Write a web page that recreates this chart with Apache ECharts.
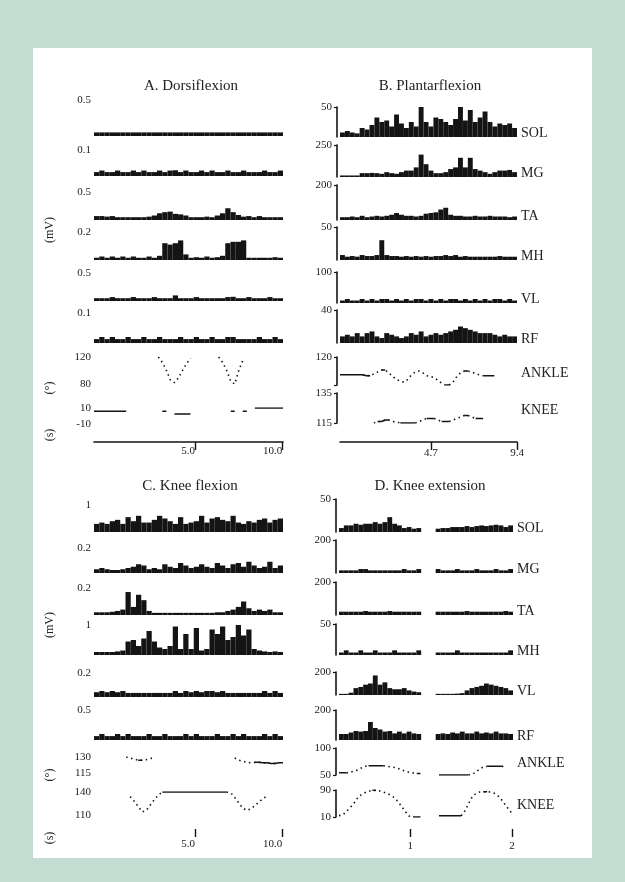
<!DOCTYPE html>
<html>
<head>
<meta charset="utf-8">
<title>EMG and joint angles</title>
<script src="https://cdn.jsdelivr.net/npm/echarts@6/dist/echarts.min.js"></script>
<style>
  body { margin: 0; background: #c4ddd3; }
  #sheet { position: absolute; left: 33px; top: 48px; width: 559px; height: 810px; background: #fff; }
  #main { position: absolute; left: 0; top: 0; width: 625px; height: 882px; }
</style>
</head>
<body>
<div id="sheet"></div>
<div id="main"></div>
<script>
/* ---------- data ---------- */
var muscles = ['SOL', 'MG', 'TA', 'MH', 'VL', 'RF'];
var joints = ['ANKLE', 'KNEE'];
var titles = ['A. Dorsiflexion', 'B. Plantarflexion', 'C. Knee flexion', 'D. Knee extension'];

// A. dorsiflexion
var dorsiScale = [0.5, 0.1, 0.5, 0.2, 0.5, 0.1];
var dorsiSOL = [0.05,0.05,0.05,0.05,0.05,0.05,0.05,0.05,0.05,0.05,0.05,0.05,0.05,0.05,0.05,0.05,0.05,0.05,0.05,0.05,0.05,0.05,0.05,0.05,0.05,0.05,0.05,0.05,0.05,0.05,0.05,0.05,0.05,0.05,0.05,0.05];
var dorsiMG = [.015,.021,.015,.015,.021,.015,.015,.021,.015,.021,.015,.015,.021,.015,.021,.022,.015,.021,.015,.015,.021,.015,.021,.015,.015,.021,.015,.015,.021,.015,.015,.015,.021,.015,.015,.021];
var dorsiTA = [0.07,0.07,0.06,0.07,0.05,0.05,0.05,0.05,0.05,0.05,0.06,0.08,0.12,0.14,0.15,0.11,0.1,0.08,0.05,0.05,0.05,0.06,0.05,0.08,0.12,0.21,0.14,0.09,0.06,0.07,0.05,0.07,0.05,0.05,0.05,0.05];
var dorsiMH = [0.016,0.025,0.016,0.025,0.016,0.025,0.016,0.025,0.016,0.016,0.025,0.016,0.03,0.12,0.11,0.12,0.14,0.04,0.016,0.02,0.016,0.025,0.016,0.02,0.03,0.12,0.13,0.13,0.14,0.016,0.016,0.016,0.016,0.016,0.02,0.016];
var dorsiVL = [.05,.05,.05,.07,.05,.05,.05,.07,.05,.05,.05,.07,.05,.05,.05,.10,.05,.05,.05,.07,.05,.05,.05,.05,.05,.07,.075,.05,.05,.07,.05,.05,.05,.07,.05,.05];
var dorsiRF = [.013,.02,.013,.02,.013,.013,.02,.013,.013,.02,.013,.013,.02,.013,.013,.013,.02,.013,.013,.02,.013,.013,.02,.013,.013,.02,.02,.013,.013,.013,.013,.02,.013,.013,.02,.013];
var dorsiAnkle = [null,null,null,null,null,null,null,null,null,null,null,null,null,null,null,null,120,112,100,86,82,89,100,110,118,null,null,null,null,null,null,120,112,100,84,80,100,115,null,null,null,null,null,null,null,null,null,null];
var dorsiKnee = [6,6,6,6,6,6,6,6,6,null,null,null,null,null,null,null,null,6,6,null,2.5,2.5,2.5,2.5,2.5,null,null,null,null,null,null,null,null,null,6,6,null,6,6,null,10,10,10,10,10,10,10,10];
var dorsiAnkleRange = [80, 120];
var dorsiKneeRange = [-10, 10];
var dorsiTime = [-0.8, 10.05];
var dorsiTicks = [5, 10];

// B. plantarflexion
var plantarScale = [50, 250, 200, 50, 100, 40];
var plantarSOL = [7.5,10,7.5,6,15,12.5,20,32.5,25,27.5,17.5,37.5,22.5,15,25,17.5,50,25,17.5,32.5,30,25,20,30,50,27.5,45,25,32.5,42.5,25,17.5,22.5,20,22.5,15];
var plantarMG = [12,12,12,12,30,30,32,30,25,38,30,25,38,50,50,75,175,100,50,30,30,38,62,75,150,75,150,62,50,38,25,38,50,50,55,38];
var plantarTA = [16,16,20,16,24,16,20,24,20,24,30,40,30,24,24,20,24,36,40,44,60,70,30,24,24,20,20,24,20,20,24,20,20,20,16,20];
var plantarMH = [7.5,5,6,5,7.5,6,6,7.5,30,7.5,6,6,5,6,5,6,5,6,5,6,6,7.5,6,7.5,5,6,5,5,5,5,5,5,6,5,5,5];
var plantarVL = [8,13,8,8,13,8,13,8,13,13,8,13,8,13,8,13,13,8,13,8,13,8,13,13,8,13,8,13,8,13,8,13,13,8,13,8];
var plantarRF = [8,10,8,12,8,12,14,8,6,12,10,8,6,8,12,10,14,8,10,12,10,12,14,16,20,18,16,14,12,12,12,10,8,10,8,8];
var plantarAnkle = [101,101,101,101,101,101,101,100,100,102,104,106,106,103,99,96,94,93,96,101,104,105,103,100,99,98,95,92,90,90,93,99,103,105,105,104,102,101,100,100,100,100,null,null,null,null,null,null];
var plantarKnee = [null,null,null,null,null,null,null,null,null,115,116,116,117,117,116,115.5,115,115,115,115,115,116,117,118,118,118,117,116,116,116,117,118,119,120,120,119,118,118,118,null,null,null,null,null,null,null,null,null];
var plantarAnkleRange = [90, 120];
var plantarKneeRange = [115, 135];
var plantarTime = [-0.27, 9.4];
var plantarTicks = [4.7, 9.4];

// C. knee flexion
var flexScale = [1, 0.2, 0.2, 1, 0.2, 0.5];
var flexSOL = [.3,.35,.3,.4,.45,.3,.55,.4,.6,.35,.35,.45,.6,.5,.4,.3,.55,.3,.35,.4,.6,.35,.5,.55,.45,.4,.6,.35,.3,.4,.35,.45,.5,.35,.45,.5];
var flexMG = [.03,.04,.03,.024,.024,.03,.04,.05,.07,.06,.03,.04,.03,.07,.05,.04,.08,.06,.04,.05,.07,.05,.04,.08,.06,.04,.07,.08,.05,.09,.06,.04,.05,.09,.04,.06];
var flexTA = [.02,.02,.02,.024,.03,.04,.17,.06,.15,.11,.03,.016,.016,.016,.016,.016,.016,.016,.016,.016,.016,.016,.016,.02,.02,.03,.04,.06,.1,.05,.03,.04,.03,.04,.02,.02];
var flexMH = [.1,.1,.1,.1,.12,.15,.45,.5,.3,.55,.8,.45,.25,.2,.3,.95,.2,.7,.2,.9,.15,.2,.85,.7,.95,.5,.6,1.0,.65,.85,.2,.15,.12,.1,.12,.1];
var flexVL = [.04,.05,.04,.05,.04,.05,.034,.034,.034,.034,.034,.034,.034,.034,.034,.05,.034,.05,.04,.05,.04,.05,.05,.04,.05,.034,.034,.034,.034,.034,.034,.034,.05,.034,.05,.034];
var flexRF = [.065,.1,.065,.065,.1,.065,.1,.065,.065,.065,.1,.065,.065,.1,.065,.065,.065,.1,.065,.1,.065,.065,.065,.1,.065,.065,.1,.065,.1,.065,.065,.065,.1,.065,.1,.065];
var flexAnkle = [null,null,null,null,null,null,null,null,130,129,128,127,127,127.5,128.5,129.5,null,null,null,null,null,null,null,null,null,null,null,null,null,null,null,null,null,null,null,129,127,126,125,124.5,125,125,124.5,124.5,124,124,124.5,124.5];
var flexKnee = [null,null,null,null,null,null,null,null,null,134,128,121,114,116,123,130,136,140,140,140,140,140,140,140,140,140,140,140,140,140,140,140,140,140,139,133,126,119,116,118,122,127,131,135,null,null,null,null];
var flexAnkleRange = [115, 130];
var flexKneeRange = [110, 140];
var flexTime = [-0.8, 10.05];
var flexTicks = [5, 10];

// D. knee extension (two trials, gap between them)
var extScale = [50, 200, 200, 50, 200, 200];
var extSOL = [6,10,10,12.5,11,12.5,12.5,15,12.5,15,22.5,12.5,10,6,7.5,5,6,null,null,null,5,6,6,7.5,7.5,7.5,9,7.5,9,10,9,10,11,10,7.5,10];
var extMG = [16,16,16,16,24,24,16,16,16,16,16,16,16,24,16,16,24,null,null,null,24,16,16,16,24,16,16,16,24,16,16,16,24,16,16,24];
var extTA = [20,20,20,20,20,24,20,20,20,20,24,20,20,20,20,20,20,null,null,null,20,20,20,20,20,20,24,20,20,20,20,20,20,20,24,20];
var extMH = [4,7.5,4,4,7.5,4,4,7.5,4,4,4,7.5,4,4,4,4,7.5,null,null,null,4,4,4,4,7.5,4,4,4,4,4,4,4,4,4,4,7.5];
var extVL = [10,10,20,60,70,90,100,170,90,110,60,50,50,60,40,30,24,null,null,null,10,10,10,10,12,16,40,60,70,80,100,90,80,70,60,40];
var extRF = [40,40,50,60,56,60,120,80,70,56,60,44,56,44,56,44,40,null,null,null,40,44,40,50,44,56,44,44,56,44,50,44,56,44,44,40];
var extAnkle = [54,54,54,55,57,59,63,66,67,67,67,67,67,66,65,64,62,59,57,55,54,53,53,null,null,null,null,50,50,50,50,50,50,50,50,50,51,56,61,65,66,66,66,66,66,65,null,null];
var extKnee = [14,16,26,38,50,66,76,82,86,89,89,87,84,80,74,67,55,40,25,12,10,10,10,null,null,null,null,14,14,14,14,14,14,14,28,50,70,80,84,85,85,84,80,72,60,45,30,18];
var extAnkleRange = [50, 100];
var extKneeRange = [10, 90];
var extTime = [0.3, 2.01];
var extTicks = [1, 2];

/* ---------- layout (pixels) ---------- */
var SERIF = 'Liberation Serif';
var INK = '#141414';

var panels = [
  { title: titles[0], titleX: 191, titleY: 86, left: 94, width: 189,
    rows: [[100,36],[150,26],[192,28],[232,28],[273,28],[313,30],[357,27],[408,16]],
    scale: dorsiScale, emg: [dorsiSOL, dorsiMG, dorsiTA, dorsiMH, dorsiVL, dorsiRF],
    angles: [dorsiAnkle, dorsiKnee], ranges: [dorsiAnkleRange, dorsiKneeRange], bothEnds: [true, true],
    time: dorsiTime, ticks: dorsiTicks, axisY: 442, axisLine: true, tickAlign: 'right', labelMargin: 4,
    digits: 1, yLine: false, names: false },
  { title: titles[1], titleX: 430, titleY: 86, left: 340, width: 177,
    rows: [[107,30],[145,32],[185,35],[227,33],[272,31],[310,33],[357,28],[393,30]],
    scale: plantarScale, emg: [plantarSOL, plantarMG, plantarTA, plantarMH, plantarVL, plantarRF],
    angles: [plantarAnkle, plantarKnee], ranges: [plantarAnkleRange, plantarKneeRange], bothEnds: [false, true],
    time: plantarTime, ticks: plantarTicks, axisY: 442, axisLine: true, tickAlign: 'center', labelMargin: 6,
    digits: 1, yLine: true, names: true },
  { title: titles[2], titleX: 190, titleY: 486, left: 94, width: 189,
    rows: [[505,27],[548,25],[588,27],[625,30],[673,24],[710,30],[757,16],[792,23]],
    scale: flexScale, emg: [flexSOL, flexMG, flexTA, flexMH, flexVL, flexRF],
    angles: [flexAnkle, flexKnee], ranges: [flexAnkleRange, flexKneeRange], bothEnds: [true, true],
    time: flexTime, ticks: flexTicks, axisY: 829, axisLine: false, tickAlign: 'right', labelMargin: 10,
    digits: 1, yLine: false, names: false },
  { title: titles[3], titleX: 430, titleY: 486, left: 339, width: 174,
    rows: [[499,33],[540,33],[582,33],[624,31],[672,23],[710,30],[748,27],[790,27]],
    scale: extScale, emg: [extSOL, extMG, extTA, extMH, extVL, extRF],
    angles: [extAnkle, extKnee], ranges: [extAnkleRange, extKneeRange], bothEnds: [true, true],
    time: extTime, ticks: extTicks, axisY: 829, axisLine: false, tickAlign: 'center', labelMargin: 12,
    digits: 0, yLine: true, names: true }
];

// side labels of the left column
var unitLabels = [
  { text: '(mV)', x: 50, y: 230 }, { text: '(°)', x: 50, y: 388 }, { text: '(s)', x: 50, y: 435 },
  { text: '(mV)', x: 50, y: 625 }, { text: '(°)', x: 50, y: 775 }, { text: '(s)', x: 50, y: 838 }
];

/* ---------- build the option ---------- */
var grids = [], xAxes = [], yAxes = [], series = [], texts = [];

function fmt(v) { return String(v); }

function yAxisFor(g, min, max, labels, ticks, line) {
  return {
    gridIndex: g, type: 'value', min: min, max: max,
    offset: line ? 3 : 0,
    splitLine: { show: false },
    axisLine: { show: line, lineStyle: { color: INK, width: 1.6 } },
    axisTick: { show: line, customValues: ticks, length: 3, lineStyle: { color: INK, width: 1.2 } },
    axisLabel: { customValues: labels, margin: line ? 5 : 3, fontFamily: SERIF, fontSize: 11,
      color: '#222', formatter: fmt }
  };
}

// flat stretches come out solid in the figure, moving stretches dotted
function splitTrace(vals) {
  var flat = [], move = [];
  for (var i = 0; i < vals.length; i++) {
    var v = vals[i], p = i > 0 ? vals[i - 1] : null, n = i < vals.length - 1 ? vals[i + 1] : null;
    var isFlat = v != null && ((p != null && p === v) || (n != null && n === v));
    var isMove = v != null && ((p != null && p !== v) || (n != null && n !== v));
    flat.push(isFlat ? v : null);
    move.push(isMove ? v : null);
  }
  return { flat: flat, move: move };
}

function sideName(p, text, y) {
  texts.push({ type: 'text', x: p.left + p.width + 4, y: y,
    style: { text: text, font: '14px "' + SERIF + '"', fill: '#222', textVerticalAlign: 'middle' } });
}

function build(p) {
  texts.push({ type: 'text', x: p.titleX, y: p.titleY,
    style: { text: p.title, font: '15px "' + SERIF + '"', fill: '#222', textAlign: 'center', textVerticalAlign: 'middle' } });

  // EMG rows
  p.emg.forEach(function (vals, k) {
    var g = grids.length, r = p.rows[k];
    grids.push({ left: p.left, top: r[0], width: p.width, height: r[1] });
    xAxes.push({ gridIndex: g, type: 'category', show: false, boundaryGap: true,
      data: vals.map(function (v, i) { return i; }) });
    yAxes.push(yAxisFor(g, 0, p.scale[k], [p.scale[k]], [p.scale[k]], p.yLine));
    series.push({ type: 'bar', xAxisIndex: g, yAxisIndex: g, data: vals, barCategoryGap: '0%',
      itemStyle: { color: INK }, silent: true });
    if (p.names) sideName(p, muscles[k], r[0] + r[1] - 4);
  });

  // joint angle rows
  p.angles.forEach(function (vals, k) {
    var g = grids.length, r = p.rows[6 + k], rg = p.ranges[k];
    grids.push({ left: p.left, top: r[0], width: p.width, height: r[1] });
    xAxes.push({ gridIndex: g, type: 'category', show: false, boundaryGap: false,
      data: vals.map(function (v, i) { return i; }) });
    var labels = p.bothEnds[k] ? [rg[1], rg[0]] : [rg[1]];
    yAxes.push(yAxisFor(g, rg[0], rg[1], labels, [rg[1], rg[0]], p.yLine));
    var parts = splitTrace(vals);
    series.push({ type: 'line', xAxisIndex: g, yAxisIndex: g, data: parts.flat, showSymbol: false,
      lineStyle: { color: INK, width: 1.5 }, silent: true });
    series.push({ type: 'line', xAxisIndex: g, yAxisIndex: g, data: parts.move, showSymbol: false,
      lineStyle: { color: INK, width: 1.6, type: [1.5, 3.5] }, silent: true });
    if (p.names) sideName(p, joints[k], r[0] + r[1] / 2 + 2);
  });

  // time axis
  var g = grids.length;
  grids.push({ left: p.left, top: p.axisY - 1, width: p.width, height: 1 });
  xAxes.push({ gridIndex: g, type: 'value', min: p.time[0], max: p.time[1],
    splitLine: { show: false },
    axisLine: { show: p.axisLine, lineStyle: { color: INK, width: 1.6 } },
    axisTick: { show: true, customValues: p.ticks, length: 8, lineStyle: { color: INK, width: 1.4 } },
    axisLabel: { customValues: p.ticks, align: p.tickAlign, margin: p.labelMargin,
      fontFamily: SERIF, fontSize: 11, color: '#222',
      formatter: function (v) { return v.toFixed(p.digits); } } });
  yAxes.push({ gridIndex: g, type: 'value', show: false });
}

panels.forEach(build);

unitLabels.forEach(function (u) {
  texts.push({ type: 'text', x: u.x, y: u.y, rotation: Math.PI / 2,
    style: { text: u.text, font: '12px "' + SERIF + '"', fill: '#222', textAlign: 'center', textVerticalAlign: 'middle' } });
});

var chart = echarts.init(document.getElementById('main'), null, { renderer: 'canvas' });
chart.setOption({
  animation: false,
  backgroundColor: 'transparent',
  grid: grids,
  xAxis: xAxes,
  yAxis: yAxes,
  series: series,
  graphic: { elements: texts }
});
</script>
</body>
</html>
